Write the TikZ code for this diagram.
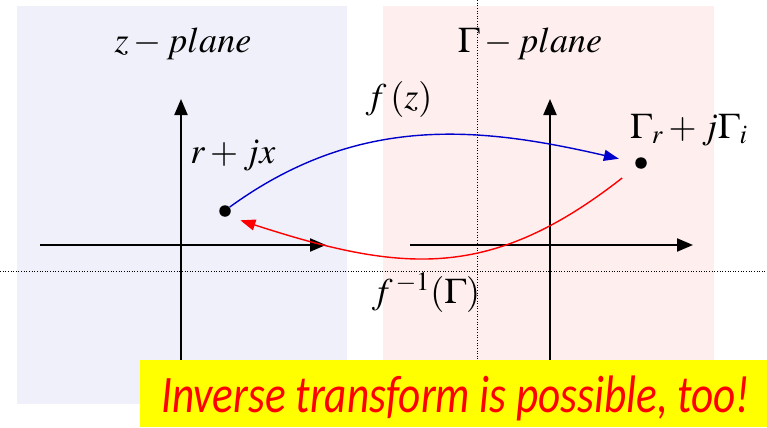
\documentclass[tikz,border=0pt]{standalone}
\usepackage{mathptmx}
\usepackage{fontspec}
\newfontfamily\notefont{Carlito}
\usetikzlibrary{arrows.meta}

\definecolor{zpane}{RGB}{240,240,250}
\definecolor{gpane}{RGB}{254,238,238}
\definecolor{notebg}{RGB}{255,255,0}

\tikzset{
  axis/.style={line width=1.2pt, -{Triangle[length=0.32cm, width=0.26cm]}},
  guide/.style={densely dotted, line width=0.5pt},
  pt/.style={circle, fill=black, inner sep=0pt, minimum size=0.23cm},
  lbl/.style={font=\fontsize{20.5}{24}\selectfont, inner sep=0pt},
  map/.style={line width=0.8pt, -{Triangle[length=0.3cm, width=0.22cm]}}
}

\begin{document}
\begin{tikzpicture}
  \useasboundingbox (0,0) rectangle (15.34,8.54);

  % --- piani ---
  \fill[zpane] (0.34,0.46) rectangle (6.94,8.42);
  \fill[gpane] (7.66,0.46) rectangle (14.28,8.42);

  % --- linee guida ---
  \coordinate (hl) at (0,3.12);
  \coordinate (hr) at (15.34,3.12);
  \coordinate (vt) at (9.54,8.54);
  \coordinate (vb) at (9.54,1.34);
  \draw[guide] (hl) -- (hr);
  \draw[guide] (vt) -- (vb);

  % --- assi z ---
  \coordinate (zx0) at (0.8,3.64);
  \coordinate (zx1) at (6.52,3.64);
  \coordinate (zy0) at (3.62,1.0);
  \coordinate (zy1) at (3.62,6.56);
  \draw[axis] (zx0) -- (zx1);
  \draw[axis] (zy0) -- (zy1);

  % --- assi Gamma ---
  \coordinate (gx0) at (8.2,3.64);
  \coordinate (gx1) at (13.86,3.64);
  \coordinate (gy0) at (11.0,1.0);
  \coordinate (gy1) at (11.0,6.56);
  \draw[axis] (gx0) -- (gx1);
  \draw[axis] (gy0) -- (gy1);

  % --- titoli ---
  \node[lbl] (ztitle) at (3.66,7.66) {$z - plane$};
  \node[lbl] (gtitle) at (10.6,7.66) {$\Gamma - plane$};

  % --- punti ---
  \node[pt] (lz) at (4.5,4.32) {};
  \node[pt] (rg) at (12.82,5.28) {};
  \node[lbl] (lzlab) at (4.66,5.42) {$r + jx$};
  \node[lbl] (rglab) at (13.78,5.94) {$\Gamma_r + j\Gamma_i$};

  % --- f(z) ---
  \draw[map, blue!80!black, shorten >=0.33cm] (lz.40) to[out=36, in=167] (rg.175);
  \node[lbl] (fz) at (7.98,6.56) {$f\,(z)$};

  % --- f^{-1} ---
  \draw[map, red, shorten <=0.36cm, shorten >=0.26cm] (rg.220) to[out=218, in=-18, looseness=1.15] (lz.-60);
  \node[lbl] (finv) at (8.52,2.68) {$f^{\,-1}(\Gamma)$};

  % --- nota ---
  \fill[notebg] (2.8,0) rectangle (15.34,1.34);
  \node[font=\notefont\itshape\fontsize{30}{36}\selectfont, text=red, inner sep=0pt, anchor=base west, xscale=0.82] (note) at (3.22,0.3) {Inverse transform is possible, too!};

\end{tikzpicture}
\end{document}
